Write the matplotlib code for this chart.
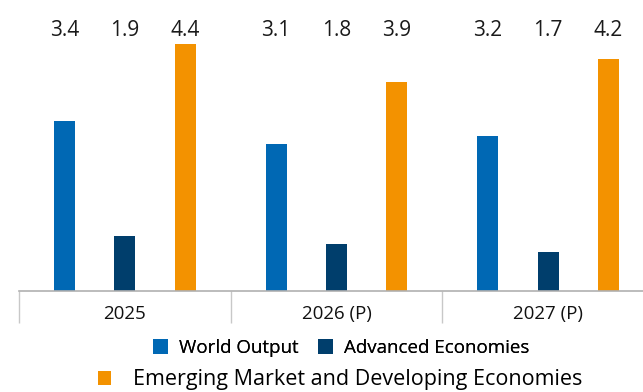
import matplotlib
matplotlib.use("Agg")
import numpy as np
import matplotlib.pyplot as plt
import matplotlib.transforms as mtransforms

years = ["2025", "2026 (P)", "2027 (P)"]
world_output = [3.4, 3.1, 3.2]
advanced = [1.9, 1.8, 1.7]
emerging = [4.4, 3.9, 4.2]
series_names = ["World Output", "Advanced Economies",
                "Emerging Market and Developing Economies"]
colors = ["#0068b4", "#003e6c", "#f39200"]

plt.rcParams["font.family"] = ["Open Sans", "DejaVu Sans"]

W, H = 643, 392
fig = plt.figure(figsize=(W / 100, H / 100), dpi=100)
# axes runs slightly past the right edge, like the cropped original
ax = fig.add_axes([19 / W, (H - 291) / H, 635 / W, (291 - 44) / H])

x = np.arange(len(years))
width = 0.1
offset = 0.285
bars = []
for i, (vals, col) in enumerate(zip([world_output, advanced, emerging], colors)):
    b = ax.bar(x + (i - 1) * offset, vals, width, color=col, label=series_names[i])
    bars.append(b)

ax.set_xlim(-0.5, 2.5)
ax.set_ylim(1.19, 4.4)

# value labels in a fixed row above the plot
trans = mtransforms.blended_transform_factory(ax.transData, fig.transFigure)
for i, vals in enumerate([world_output, advanced, emerging]):
    for xi, v in zip(x, vals):
        ax.text(xi + (i - 1) * offset, 1 - 31 / H, f"{v:.1f}", transform=trans,
                ha="center", va="center", fontsize=15, color="#1a1a1a")

for s in ["top", "right", "left"]:
    ax.spines[s].set_visible(False)
ax.spines["bottom"].set_color("#b0b0b0")
ax.spines["bottom"].set_linewidth(1.2)
ax.set_yticks([])

ax.set_xticks(x)
ax.set_xticklabels(years, fontsize=13.5, color="#111111")
ax.tick_params(axis="x", which="major", length=0, pad=10)
ax.set_xticks([-0.5, 0.5, 1.5, 2.5], minor=True)
ax.tick_params(axis="x", which="minor", length=23, width=1.0, color="#c8c8c8")

leg1 = fig.legend(handles=bars[:2], labels=series_names[:2], ncol=2,
                  loc="center", bbox_to_anchor=(341 / W, 1 - 348 / H),
                  frameon=False, fontsize=13.5, handlelength=0.8, handleheight=0.8,
                  handletextpad=0.6, columnspacing=1.0, borderpad=0)
leg2 = fig.legend(handles=bars[2:], labels=series_names[2:],
                  loc="center", bbox_to_anchor=(340 / W, 1 - 380 / H),
                  frameon=False, fontsize=15.5, handlelength=0.6, handleheight=0.6,
                  handletextpad=1.0, borderpad=0)
fig.add_artist(leg1)

fig.savefig("out.png", dpi=100)
